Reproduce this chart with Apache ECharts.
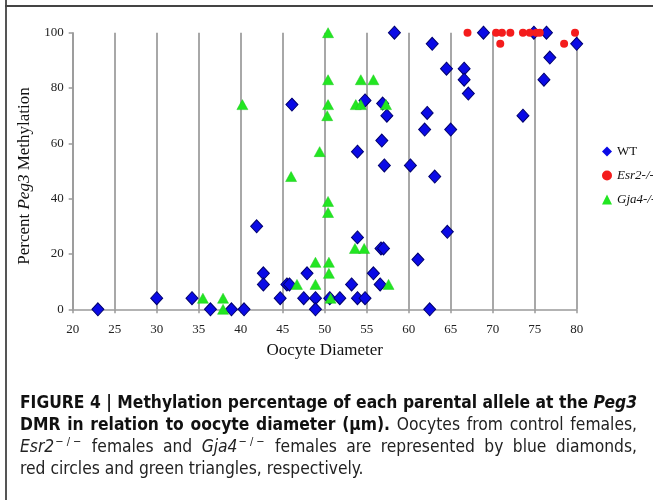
<!DOCTYPE html>
<html>
<head>
<meta charset="utf-8">
<script src="https://cdn.jsdelivr.net/npm/echarts@6/dist/echarts.min.js"></script>
<style>
html,body{margin:0;padding:0;background:#fff;}
#chart{width:653px;height:500px;}
</style>
</head>
<body>
<div id="chart"></div>
<script>
// ---- data (oocyte diameter, percent Peg3 methylation) ----
const wtData = [
  [23.0,0],[30.0,4],[34.2,4],[36.4,0],[38.9,0],[40.4,0],[41.9,30],[42.7,13],[42.7,9],
  [44.7,4],[45.5,9],[45.8,9],[46.1,74],[47.5,4],[47.9,13],[48.9,4],[48.9,0],[50.6,4],
  [51.8,4],[53.2,9],[53.9,26],[53.9,4],[54.8,4],[53.9,57],[54.8,75.5],[55.8,13],[56.6,9],
  [56.7,22],[57.0,22],[56.9,74.4],[57.4,70],[56.8,61],[57.1,52],[58.3,100],[60.2,52],
  [61.1,18],[61.9,65],[62.2,71],[62.5,0],[62.8,96],[63.1,48],[64.5,87],[64.6,28],[65.0,65],
  [66.6,87],[66.6,83],[67.1,78],[68.9,100],[73.6,70],[74.9,100],[76.1,83],[76.4,100],
  [76.8,91],[80.0,96]
];
const esr2Data = [
  [67.0,100],[70.4,100],[71.1,100],[72.1,100],[73.6,100],[74.4,100],[75.2,100],[75.6,100],
  [79.8,100],[70.9,96],[78.5,96]
];
const gja4Data = [
  [35.5,4],[37.9,4],[37.9,0],[40.2,74],[46.0,48],[46.7,9],[48.9,17],[48.9,9],[49.4,57],
  [50.4,100],[50.4,83],[50.4,74],[50.3,70],[50.4,39],[50.4,35],[50.5,17],[50.5,13],[50.7,4],
  [53.6,22],[54.7,22],[53.7,74],[54.3,74],[54.3,83],[55.8,83],[57.3,74],[57.6,9]
];
const seriesNames = ['WT','Esr2-/-','Gja4-/-'];
const xTitle = 'Oocyte Diameter';
const yTitle = 'Percent {i|Peg3} Methylation';
// caption: each line = list of [style, text]; 's' = superscript attached to previous word
const captionLines = [
  [['b','FIGURE 4 | Methylation percentage of each parental allele at the'],['bi',' Peg3']],
  [['b','DMR in relation to oocyte diameter (\u03bcm).'],['r',' Oocytes from control females,']],
  [['i','Esr2'],['s','\u2212 / \u2212'],['r',' females and '],['i','Gja4'],['s','\u2212 / \u2212'],['r',' females are represented by blue diamonds,']],
  [['r','red circles and green triangles, respectively.']]
];

const serif = '"Liberation Serif","Times New Roman",serif';
const sansFam = '"DejaVu Sans Condensed","Liberation Sans",sans-serif';
const capSize = 17.3;
const capFonts = {
  b:'bold '+capSize+'px '+sansFam,
  bi:'italic bold '+capSize+'px '+sansFam,
  r:capSize+'px '+sansFam,
  i:'italic '+capSize+'px '+sansFam,
  s:'11px '+sansFam
};
const capFill = {b:'#111',bi:'#111',r:'#222',i:'#222',s:'#222'};
const capLeft = 20, capRight = 637;
const capY = [404,426,448,470];

const mctx = document.createElement('canvas').getContext('2d');
function tw(style, t){ mctx.font = capFonts[style]; return mctx.measureText(t).width; }

const graphics = [
  {type:'line',shape:{x1:6,y1:0,x2:6,y2:500},style:{stroke:'#555',lineWidth:2},silent:true},
  {type:'line',shape:{x1:5,y1:6,x2:653,y2:6},style:{stroke:'#444',lineWidth:2},silent:true}
];

captionLines.forEach((segs, li)=>{
  const words = [];
  let cur = [];
  segs.forEach(([st, txt])=>{
    if (st === 's') { cur.push([st, txt]); return; }
    const parts = txt.split(' ');
    parts.forEach((p, k)=>{
      if (k > 0) { if (cur.length) words.push(cur); cur = []; }
      if (p.length) cur.push([st, p]);
    });
  });
  if (cur.length) words.push(cur);
  const wordW = words.map(w=>w.reduce((a,[st,t])=>a + tw(st,t) + (st==='s'?2:0), 0));
  const total = wordW.reduce((a,b)=>a+b,0);
  const gaps = words.length - 1;
  const last = li === captionLines.length - 1;
  const gap = last ? tw('r',' ') : (capRight - capLeft - total) / gaps;
  let x = capLeft;
  words.forEach((w)=>{
    w.forEach(([st,t])=>{
      const sup = st === 's';
      graphics.push({type:'text', x: x + (sup?1:0), y: capY[li] + (sup?-6:0), silent:true,
        style:{text:t, font:capFonts[st], fill:capFill[st], verticalAlign:'middle', align:'left'}});
      x += tw(st,t) + (sup?2:0);
    });
    x += gap;
  });
});

const chart = echarts.init(document.getElementById('chart'), null, {renderer:'canvas'});
chart.setOption({
  animation:false,
  grid:{left:72.7,right:76.3,top:32.7,bottom:190.7,containLabel:false},
  legend:{
    orient:'vertical',left:597,top:140,itemWidth:10,itemHeight:10,itemGap:11,
    data:seriesNames,
    textStyle:{fontFamily:serif,fontSize:13,color:'#111',
      rich:{i:{fontFamily:serif,fontSize:13,fontStyle:'italic',color:'#111'}}},
    formatter:n=> n==='WT'? n : '{i|'+n+'}',
    itemStyle:{borderWidth:0}
  },
  xAxis:{
    type:'value',min:20,max:80,interval:5,
    name:xTitle,nameLocation:'middle',nameGap:33,
    nameTextStyle:{fontFamily:serif,fontSize:17,color:'#111'},
    axisLine:{lineStyle:{color:'#9a9a9a',width:1.5}},
    axisTick:{show:true,length:4,lineStyle:{color:'#9a9a9a',width:1.5}},
    axisLabel:{fontFamily:serif,fontSize:13,color:'#222',margin:14},
    splitLine:{show:true,lineStyle:{color:'#a8a8a8',width:2}}
  },
  yAxis:{
    type:'value',min:0,max:100,interval:20,
    name:yTitle,nameLocation:'middle',nameGap:30,nameRotate:90,
    nameTextStyle:{fontFamily:serif,fontSize:17,color:'#111',padding:[0,10,0,0],
      rich:{i:{fontFamily:serif,fontSize:17,fontStyle:'italic',color:'#111'}}},
    axisLine:{show:true,lineStyle:{color:'#9a9a9a',width:1.5}},
    axisTick:{show:true,length:4,lineStyle:{color:'#9a9a9a',width:1.5}},
    axisLabel:{fontFamily:serif,fontSize:13,color:'#222',margin:9},
    splitLine:{show:false}
  },
  series:[
    {name:'WT',type:'scatter',data:wtData,symbol:'diamond',symbolSize:[12,13],
     itemStyle:{color:'#0a0ae6',borderColor:'#00006e',borderWidth:1,opacity:1}},
    {name:'Esr2-/-',type:'scatter',data:esr2Data,symbol:'circle',symbolSize:8,
     itemStyle:{color:'#f41c1c',opacity:1}},
    {name:'Gja4-/-',type:'scatter',data:gja4Data,symbol:'triangle',symbolSize:[11,10],
     itemStyle:{color:'#22e622',borderColor:'#1cc81c',borderWidth:0.5,opacity:1}}
  ],
  graphic:graphics
});
</script>
</body>
</html>
